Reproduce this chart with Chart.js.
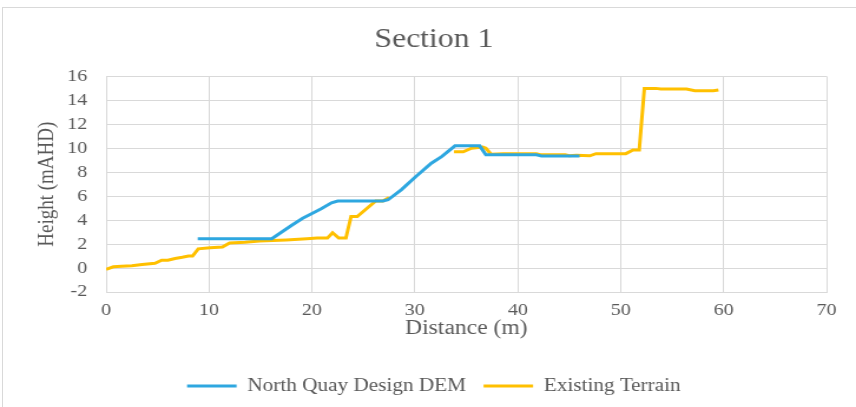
<!DOCTYPE html>
<html>
<head>
<meta charset="utf-8">
<script src="https://cdn.jsdelivr.net/npm/chart.js@4.4.1/dist/chart.umd.min.js"></script>
<style>
  html, body { margin: 0; padding: 0; background: #ffffff; overflow: hidden; width: 856px; height: 407px; }
  #frame { position: absolute; left: 2px; top: 7px; width: 900px; height: 500px; border: 1px solid #d9d9d9; box-sizing: border-box; }
  #wrap { position: absolute; left: 0; top: 0; width: 726px; height: 407px; transform: scaleX(1.17906); transform-origin: 0 0; }
  canvas { display: block; }
</style>
</head>
<body>
<div id="frame"></div>
<div id="wrap"><canvas id="c" width="726" height="407" style="width:726px;height:407px"></canvas></div>
<script>
// ---- data ----
const chartTitle = "Section 1";
const xAxisTitle = "Distance (m)";
const yAxisTitle = "Height (mAHD)";
const demLabel = "North Quay Design DEM";
const terrainLabel = "Existing Terrain";

const demX = [8.9, 16.1, 18.0, 19.1, 20.1, 20.9, 21.9, 22.5, 26.9, 27.4, 28.7, 30.1, 31.6, 32.6, 33.9, 36.3, 36.9, 41.8, 42.3, 46.0];
const demY = [2.45, 2.45, 3.55, 4.15, 4.6, 4.95, 5.45, 5.6, 5.6, 5.7, 6.55, 7.65, 8.75, 9.3, 10.2, 10.2, 9.45, 9.45, 9.35, 9.35];

const terrainX = [0, 0.7, 1.5, 2.5, 3.5, 4.75, 5.4, 6.0, 6.7, 7.4, 8.0, 8.4, 8.95, 10.1, 11.3, 12.0, 13.5, 14.9, 16.2, 17.5, 19.5, 20.5, 21.5, 22.0, 22.6, 23.3, 23.8, 24.4, 26.2, 26.9, 27.5,
  30.5,
  33.8, 34.7, 35.5, 36.6, 36.9, 37.4, 38.6, 41.8, 42.3, 44.6, 45.0, 45.7, 47.0, 47.6, 50.5, 51.2, 51.8, 52.3, 53.4, 53.9, 56.4, 57.2, 59.0, 59.5];
const terrainY = [-0.1, 0.1, 0.15, 0.2, 0.3, 0.4, 0.65, 0.65, 0.8, 0.9, 1.0, 1.0, 1.6, 1.7, 1.75, 2.1, 2.15, 2.25, 2.3, 2.35, 2.45, 2.5, 2.5, 2.95, 2.5, 2.5, 4.3, 4.3, 5.6, 5.6, 5.9,
  null,
  9.7, 9.7, 10.0, 10.1, 10.0, 9.5, 9.55, 9.55, 9.45, 9.45, 9.37, 9.42, 9.37, 9.55, 9.55, 9.85, 9.85, 15.0, 15.0, 14.95, 14.95, 14.8, 14.8, 14.87];

const xTicks = [0, 10, 20, 30, 40, 50, 60, 70];
const yTicks = [-2, 0, 2, 4, 6, 8, 10, 12, 14, 16];

// ---- chart ----
const blue = "#2ea7e0";
const gold = "#ffc000";
const textGray = "#595959";
const gridGray = "#d9d9d9";
const serif = "'Liberation Serif', 'Times New Roman', serif";
Chart.defaults.font.family = serif;

const toPoints = (xs, ys) => xs.map((x, i) => ({ x: x, y: ys[i] }));

new Chart(document.getElementById("c"), {
  type: "line",
  data: {
    datasets: [
      { label: demLabel, data: toPoints(demX, demY), borderColor: blue, backgroundColor: blue,
        borderWidth: 3, pointRadius: 0, tension: 0, spanGaps: false },
      { label: terrainLabel, data: toPoints(terrainX, terrainY), borderColor: gold, backgroundColor: gold,
        borderWidth: 3, pointRadius: 0, tension: 0, spanGaps: false }
    ]
  },
  options: {
    responsive: false,
    animation: false,
    devicePixelRatio: 1,
    layout: { padding: { left: 10, right: 0, top: 0, bottom: 2 } },
    plugins: {
      title: {
        display: true, text: chartTitle, color: textGray,
        font: { family: serif, size: 27, weight: "normal" },
        padding: { top: 24, bottom: 20 }
      },
      legend: {
        position: "bottom",
        labels: {
          color: textGray,
          font: { family: serif, size: 18 },
          boxWidth: 42, boxHeight: 3, padding: 15,
          generateLabels: (chart) => Chart.defaults.plugins.legend.labels.generateLabels(chart).map(l => Object.assign(l, { lineWidth: 0 }))
        }
      },
      tooltip: { enabled: false }
    },
    scales: {
      x: {
        type: "linear", min: xTicks[0], max: xTicks[xTicks.length - 1],
        afterBuildTicks: (s) => { s.ticks = xTicks.map(v => ({ value: v })); },
        afterFit: (s) => { s.height = 70; s.paddingRight = 25; },
        ticks: { color: textGray, font: { family: serif, size: 17 }, padding: 8, maxRotation: 0 },
        grid: { color: gridGray, lineWidth: 1, drawTicks: false },
        border: { color: gridGray, width: 1 },
        title: { display: true, text: xAxisTitle, color: textGray, font: { family: serif, size: 20 }, padding: { top: 0, bottom: 21 } }
      },
      y: {
        type: "linear", min: yTicks[0], max: yTicks[yTicks.length - 1],
        afterBuildTicks: (s) => { s.ticks = yTicks.map(v => ({ value: v })); },
        afterFit: (s) => { s.width = 80; },
        ticks: { color: textGray, font: { family: serif, size: 17 }, padding: 16 },
        grid: { color: gridGray, lineWidth: 1, drawTicks: false },
        border: { color: gridGray, width: 1 },
        title: { display: true, text: yAxisTitle, color: textGray, font: { family: serif, size: 19 }, padding: { top: 19, bottom: 0 } }
      }
    }
  }
});
</script>
</body>
</html>
